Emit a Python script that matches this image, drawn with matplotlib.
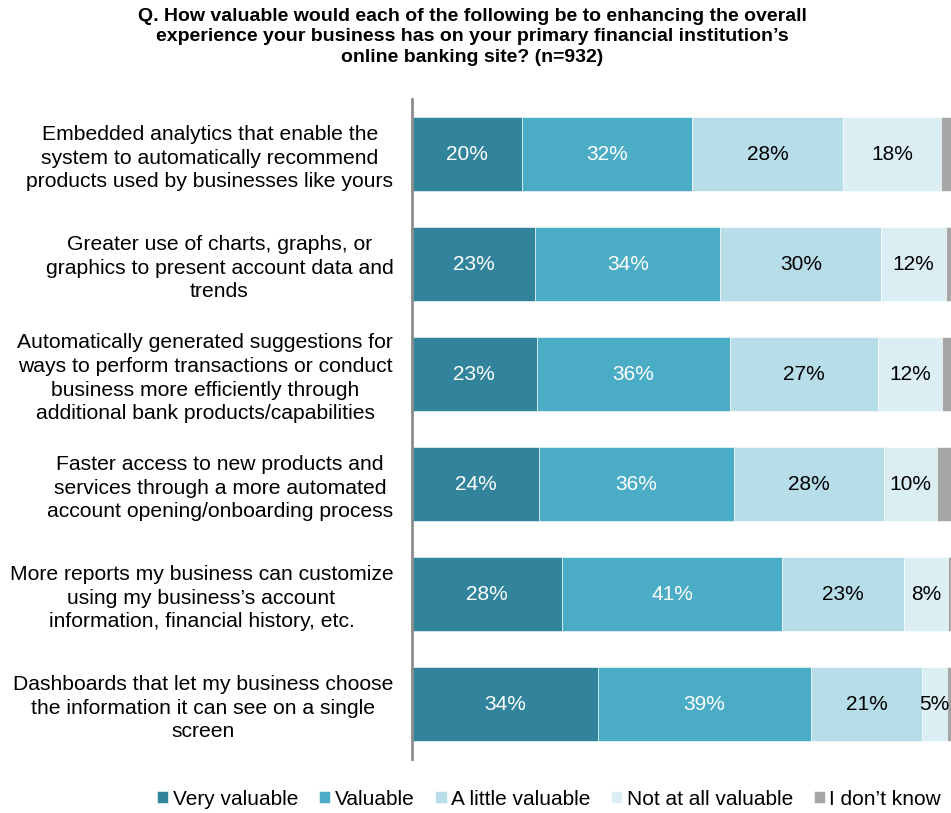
"""Stacked bar chart: value of online banking enhancements."""
import matplotlib
matplotlib.use('Agg')
import matplotlib.pyplot as plt
import numpy as np

plt.rcParams['font.family'] = ['Liberation Sans', 'DejaVu Sans']

CATEGORIES = [
    'Embedded analytics that enable the\nsystem to automatically recommend\nproducts used by businesses like yours',
    'Greater use of charts, graphs, or\ngraphics to present account data and\ntrends',
    'Automatically generated suggestions for\nways to perform transactions or conduct\nbusiness more efficiently through\nadditional bank products/capabilities',
    'Faster access to new products and\nservices through a more automated\naccount opening/onboarding process',
    'More reports my business can customize\nusing my business\u2019s account\ninformation, financial history, etc.',
    'Dashboards that let my business choose\nthe information it can see on a single\nscreen',
]
SERIES = ['Very valuable', 'Valuable', 'A little valuable', 'Not at all valuable', 'I don\u2019t know']

# bar widths (percent)
very_valuable = [20.4, 22.8, 23.1, 23.5, 27.8, 34.4]
valuable = [31.5, 34.3, 35.8, 36.1, 40.7, 39.4]
a_little = [28.0, 29.8, 27.4, 27.8, 22.6, 20.7]
not_at_all = [18.1, 12.0, 11.8, 9.9, 8.1, 4.6]
dont_know = [2.0, 1.1, 1.9, 2.7, 0.8, 0.9]

# printed labels
label_vv = [20, 23, 23, 24, 28, 34]
label_v = [32, 34, 36, 36, 41, 39]
label_alv = [28, 30, 27, 28, 23, 21]
label_nav = [18, 12, 12, 10, 8, 5]

COLORS = ['#31849B', '#4BACC6', '#B7DEE8', '#DAEEF3', '#A6A6A6']
TEXT_COLORS = ['white', 'white', 'black', 'black', None]

fig = plt.figure(figsize=(9.51, 8.13), dpi=100)
ax = fig.add_axes([412 / 951, 54 / 813, 540 / 951, 660 / 813])

series = [very_valuable, valuable, a_little, not_at_all, dont_know]
labels = [label_vv, label_v, label_alv, label_nav, None]
y = np.arange(len(CATEGORIES))
left = np.zeros(len(CATEGORIES))
for vals, lab, col, tcol, name in zip(series, labels, COLORS, TEXT_COLORS, SERIES):
    vals = np.array(vals)
    ax.barh(y, vals, left=left, height=0.67, color=col, label=name,
            edgecolor='white', linewidth=0.4)
    if lab is not None:
        for yi, l, v, t in zip(y, left, vals, lab):
            ax.text(l + v / 2, yi, '{}%'.format(t), ha='center', va='center',
                    color=tcol, fontsize=15)
    left += vals

ax.set_xlim(0, 100)
ax.set_ylim(5.5, -0.5)
ax.set_yticks(y)
ax.set_yticklabels(CATEGORIES, fontsize=15.2, multialignment='center',
                   linespacing=1.3)
ax.tick_params(axis='y', length=0, pad=13.5)
ax.set_xticks([])
for side in ['top', 'right', 'bottom']:
    ax.spines[side].set_visible(False)
ax.spines['left'].set_color('#8C8C8C')
ax.spines['left'].set_linewidth(2)

fig.text(472 / 951, 1 - 8 / 813,
         'Q. How valuable would each of the following be to enhancing the overall\n'
         'experience your business has on your primary financial institution\u2019s\n'
         'online banking site? (n=932)',
         ha='center', va='top', fontsize=14, fontweight='bold', linespacing=1.25)

fig.legend(loc='center', bbox_to_anchor=(549 / 951, 1 - 799 / 813), ncol=5,
           frameon=False, fontsize=15, handlelength=0.55, handleheight=0.55,
           handletextpad=0.2, columnspacing=1.0)

fig.savefig('out.png', dpi=100)
